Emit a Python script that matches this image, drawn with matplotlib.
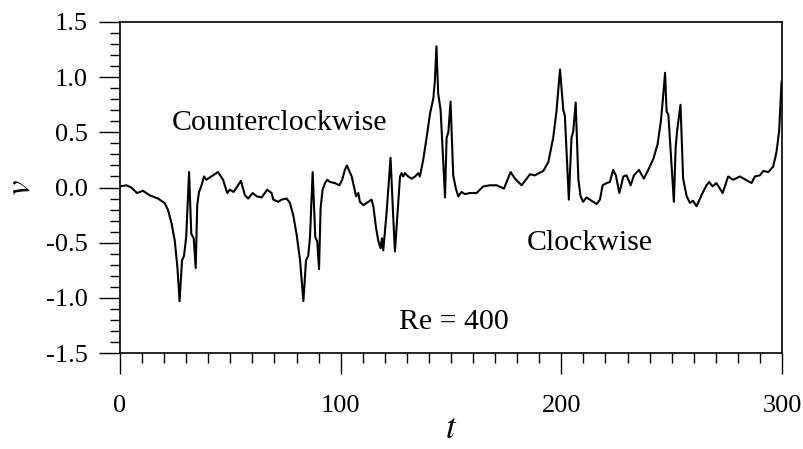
import numpy as np
import matplotlib
matplotlib.use("Agg")
import matplotlib.pyplot as plt
from matplotlib.ticker import MultipleLocator

plt.rcParams['font.family'] = ['Liberation Serif', 'DejaVu Serif']
plt.rcParams['mathtext.fontset'] = 'stix'

# time series
t = [0, 2.9, 5.1, 7.7, 10.4, 13.4, 17.2, 20.2, 21.7, 23.3, 24.8, 26.0, 27.0, 28.1, 29.0, 30.0,
     31.3, 32.3, 33.4, 34.3, 35.0, 35.8, 36.8, 38.1, 39.1, 41.4, 44.4, 46.7, 48.6, 49.7, 51.5,
     54.8, 56.6, 58.1, 60.1, 61.9, 64.2, 66.7, 68.7, 69.5, 71.7, 73.2, 75.5, 77.0, 78.5, 80.0,
     81.6, 83.1, 84.3, 85.3, 86.1, 87.3, 88.5, 89.4, 90.2, 90.9, 91.8, 92.9, 93.9, 95.2, 97.4,
     99.4, 100.7, 101.9, 102.8, 105.0, 106.0, 107.0, 108.0, 108.7, 110.3, 111.8, 114.0, 114.8,
     116.0, 117.0, 118.1, 118.7, 119.3, 120.8, 122.6, 123.8, 124.6, 125.7, 126.9, 127.6, 128.3,
     129.1, 130.6, 132.2, 133.7, 135.2, 135.9, 137.4, 139.0, 140.5, 142.0, 142.7, 143.4, 144.2,
     145.3, 147.3, 148.0, 148.8, 149.8, 151.0, 152.2, 153.3, 154.8, 156.3, 158.6, 161.6, 164.6,
     167.6, 170.7, 174.0, 177.0, 179.0, 182.0, 185.8, 188.0, 191.8, 194.1, 196.3, 197.8, 199.4,
     200.9, 201.6, 203.4, 204.6, 205.4, 206.5, 207.7, 208.7, 209.9, 211.4, 213.7, 216.0, 217.5,
     218.7, 220.5, 222.0, 223.5, 224.7, 226.3, 228.1, 229.6, 231.4, 232.9, 235.2, 237.4, 239.4,
     241.7, 243.6, 245.1, 246.2, 247.0, 247.7, 248.5, 251.0, 251.8, 252.5, 254.0, 255.2, 256.8,
     258.3, 259.6, 261.3, 263.5, 265.8, 267.0, 268.5, 270.3, 273.1, 275.6, 277.9, 280.9, 283.6,
     286.2, 287.7, 290.0, 291.5, 293.8, 296.0, 297.5, 298.7, 299.8]
v = [0.01, 0.02, 0.0, -0.05, -0.03, -0.07, -0.10, -0.14, -0.20, -0.32, -0.48, -0.72, -1.03, -0.66, -0.62, -0.45,
     0.14, -0.42, -0.46, -0.73, -0.16, -0.04, 0.01, 0.10, 0.07, 0.10, 0.14, 0.07, -0.05, -0.02, -0.04,
     0.06, -0.07, -0.10, -0.05, -0.08, -0.09, -0.02, -0.05, -0.11, -0.13, -0.11, -0.10, -0.14, -0.25, -0.42,
     -0.66, -1.03, -0.66, -0.62, -0.45, 0.14, -0.45, -0.49, -0.74, -0.19, -0.02, 0.04, 0.07, 0.05, 0.04,
     0.02, 0.07, 0.16, 0.20, 0.10, 0.01, -0.08, -0.05, -0.13, -0.16, -0.14, -0.11, -0.17,
     -0.36, -0.48, -0.55, -0.46, -0.57, -0.23, 0.27, -0.26, -0.58, -0.26, 0.10, 0.13, 0.10,
     0.13, 0.10, 0.08, 0.10, 0.13, 0.10, 0.25, 0.46, 0.67, 0.81, 0.97, 1.28, 0.85,
     0.70, -0.09, 0.45, 0.50, 0.78, 0.11, -0.01, -0.08, -0.04, -0.06, -0.05, -0.05, 0.01,
     0.02, 0.02, -0.01, 0.14, 0.08, 0.02, 0.12, 0.11, 0.15, 0.23, 0.45, 0.69, 1.07,
     0.70, 0.65, -0.11, 0.45, 0.51, 0.77, 0.08, -0.08, -0.13, -0.09, -0.12, -0.15, -0.11,
     0.02, 0.04, 0.05, 0.16, 0.11, -0.05, 0.10, 0.11, 0.02, 0.11, 0.16, 0.08, 0.16,
     0.26, 0.39, 0.60, 0.84, 1.04, 0.69, 0.66, -0.13, 0.36, 0.52, 0.75, 0.08, -0.08,
     -0.14, -0.12, -0.17, -0.07, 0.02, 0.05, 0.01, 0.04, -0.05, 0.10, 0.07, 0.10, 0.07,
     0.04, 0.10, 0.11, 0.15, 0.14, 0.19, 0.32, 0.51, 0.96]

x_ticks = [0, 100, 200, 300]
y_ticks = [-1.5, -1.0, -0.5, 0.0, 0.5, 1.0, 1.5]

fig = plt.figure(figsize=(8.04, 4.49), dpi=100)
ax = fig.add_axes([120 / 804, 1 - 353 / 449, 662 / 804, 331 / 449])

ax.plot(t, v, color='black', lw=1.5)

ax.set_xlim(0, 300)
ax.set_ylim(-1.5, 1.5)
ax.set_xticks(x_ticks)
ax.set_yticks(y_ticks)
ax.set_yticklabels(['%.1f' % y for y in y_ticks])
ax.xaxis.set_minor_locator(MultipleLocator(10))
ax.yaxis.set_minor_locator(MultipleLocator(0.1))
ax.tick_params(which='major', direction='out', length=15, width=1.0, labelsize=19, pad=8)
ax.tick_params(which='minor', direction='out', length=7.5, width=1.0)
ax.tick_params(axis='x', pad=15)
for s in ax.spines.values():
    s.set_linewidth(1.2)

ax.set_xlabel('$t$', fontsize=25, labelpad=-3)
ax.set_ylabel('$v$', fontsize=25, labelpad=6)

ax.text(23.6, 0.585, 'Counterclockwise', fontsize=21.5, va='center', ha='left')
ax.text(184.4, -0.50, 'Clockwise', fontsize=21.5, va='center', ha='left')
ax.text(126.4, -1.22, 'Re = 400', fontsize=21.5, va='center', ha='left')

fig.savefig('out.png', dpi=100)
